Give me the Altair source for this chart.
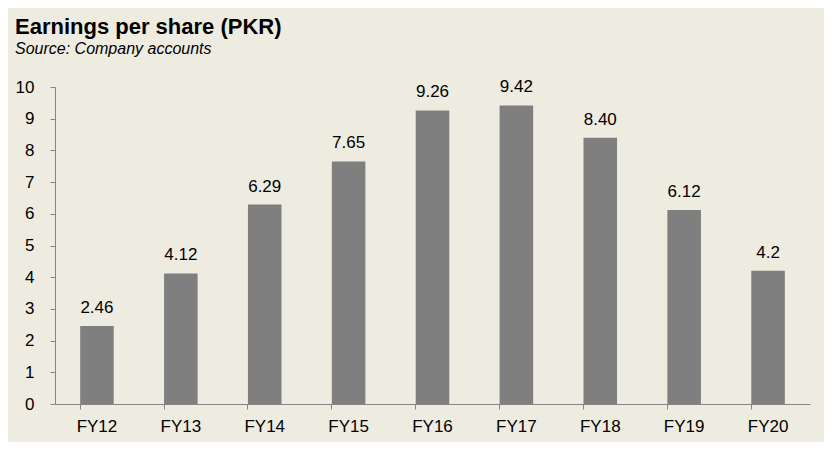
import altair as alt
import pandas as pd

categories = ["FY12", "FY13", "FY14", "FY15", "FY16", "FY17", "FY18", "FY19", "FY20"]
eps = [2.46, 4.12, 6.29, 7.65, 9.26, 9.42, 8.40, 6.12, 4.2]
eps_labels = ["2.46", "4.12", "6.29", "7.65", "9.26", "9.42", "8.40", "6.12", "4.2"]
y_ticks = [0, 1, 2, 3, 4, 5, 6, 7, 8, 9, 10]

df = pd.DataFrame({"cat": categories, "eps": eps, "label": eps_labels})

FONT = "Liberation Sans"
AXIS_COLOR = "#868686"

x = alt.X("cat:N", sort=categories, title=None,
          scale=alt.Scale(paddingInner=0.6, paddingOuter=0.3),
          axis=alt.Axis(labelAngle=0, bandPosition=0, tickSize=5, labelPadding=9,
                        labelFontSize=17, labelFont=FONT, labelColor="#000000",
                        domainColor=AXIS_COLOR, tickColor=AXIS_COLOR, grid=False))
y = alt.Y("eps:Q", title=None,
          scale=alt.Scale(domain=[0, 10], nice=False),
          axis=alt.Axis(values=y_ticks, tickCount=20, format="d", tickSize=5, labelPadding=16,
                        labelOverlap=False,
                        labelFontSize=17, labelFont=FONT, labelColor="#000000",
                        domainColor=AXIS_COLOR, tickColor=AXIS_COLOR, grid=False))

base = alt.Chart(df).encode(x=x, y=y)
bars = base.mark_bar(color="#7F7F7F")
labels = base.mark_text(font=FONT, fontSize=17, color="#000000",
                        baseline="alphabetic", dy=-13).encode(text="label:N")

chart = alt.layer(bars, labels).properties(
    width=755, height=317,
    background="#EEECE1",
    padding={"left": 47, "top": 79, "right": 14, "bottom": 38},
    autosize=alt.AutoSizeParams(type="none"),
    title=alt.TitleParams(
        text="Earnings per share (PKR)",
        subtitle="Source: Company accounts",
        anchor="start", frame="group", dx=-40, offset=20,
        font=FONT, fontSize=22, fontWeight="bold", color="#000000",
        subtitleFont=FONT, subtitleFontSize=16, subtitleFontStyle="italic",
        subtitleColor="#000000", subtitlePadding=2,
    ),
).configure_view(stroke=None)

chart.save("out.html", embed_options={"renderer": "svg", "actions": False})
